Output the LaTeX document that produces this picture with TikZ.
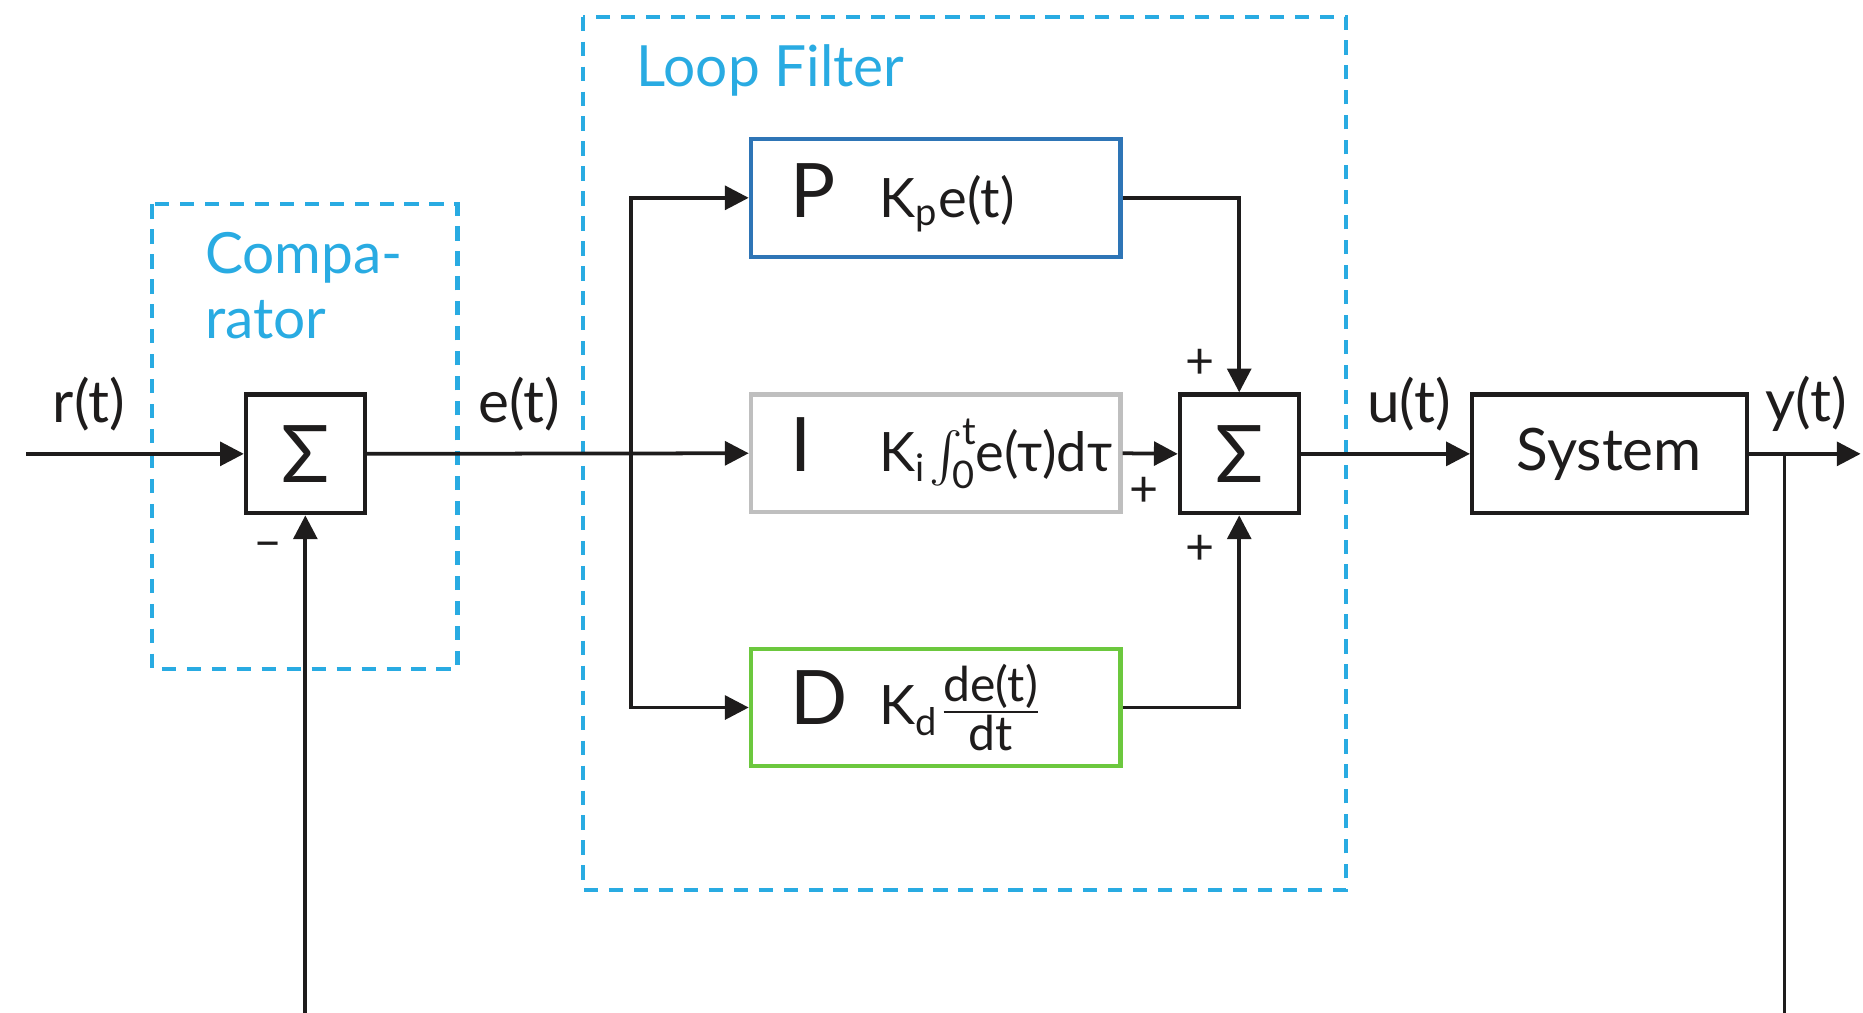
\documentclass[tikz,border=0pt]{standalone}
\usepackage{amsmath}
\usepackage{fontspec}
\setmainfont{Lato}
\usepackage{tikz}
\usetikzlibrary{positioning, arrows.meta, calc}
\definecolor{lfcyan}{RGB}{41,171,226}
\definecolor{pblue}{RGB}{46,117,182}
\definecolor{igray}{RGB}{191,191,191}
\definecolor{dgreen}{RGB}{108,200,62}
\definecolor{ink}{RGB}{30,28,28}

\begin{document}
\begin{tikzpicture}[x=0.01cm, y=-0.01cm,
        every node/.style={font=\fontsize{14}{16}\selectfont, text=ink},
        sumbox/.style={draw=ink, line width=1pt, minimum width=1cm, minimum height=1cm, inner sep=0pt, font=\fontsize{19}{20}\selectfont},
        blk/.style={draw, line width=1pt, minimum height=0.99cm, inner xsep=0.33cm, inner ysep=0pt, text width=2.45cm, align=left, font=\fontsize{13}{15}\selectfont},
        sysbox/.style={draw=ink, line width=1pt, minimum width=2.31cm, minimum height=1cm},
        grp/.style={draw=lfcyan, line width=1pt, dash pattern=on 0.12cm off 0.09cm},
        grplabel/.style={text=lfcyan, inner sep=0pt, align=left, font=\fontsize{13.6}{15.6}\selectfont},
        sgn/.style={font=\fontsize{12}{13}\selectfont, inner sep=0pt},
        arr/.style={-{Triangle[length=0.2cm, width=0.2cm]}, line width=0.9pt, draw=ink}]
      \useasboundingbox (0,0) rectangle (1568,852);
      \clip (0,0) rectangle (1568,852);

      % dashed groups
      \draw[grp] (128,172) rectangle (385,563);
      \draw[grp] (491,14) rectangle (1133,749);
      \node[grplabel, anchor=north west] (cmplabel) at (172,195) {Compa-\\rator};
      \node[grplabel, anchor=base west] (lflabel) at (535,73) {Loop Filter};

      % blocks
      \node[sumbox] (cmp) at (257,382) {Σ};
      \node[blk, draw=pblue] (P) at (787.5,166.5) {\makebox[0.75cm][l]{\fontsize{18}{20}\selectfont P}K\textsubscript{p}e(t)};
      \node[blk, draw=igray] (I) at (787.5,381.5) {\makebox[0.75cm][l]{\fontsize{18}{20}\selectfont I}K\textsubscript{i}$\mkern1mu\int_{\text{0}}^{\text{t}}\mkern-1mu$e(τ)dτ};
      \node[blk, draw=dgreen] (D) at (787.5,595.5) {\makebox[0.75cm][l]{\fontsize{18}{20}\selectfont D}K\textsubscript{d}$\frac{\mbox{\fontsize{11.5}{12}\selectfont de(t)}}{\mbox{\fontsize{11.5}{12}\selectfont dt}}$};
      \node[sumbox] (sum) at (1043,382) {Σ};
      \node[sysbox] (sys) at (1354.5,382) {System};

      % signals
      \coordinate (rin) at (22,382);
      \coordinate (br) at (531,382);
      \coordinate (fb) at (1502,382);
      \coordinate (yout) at (1566,382);
      \node (rlab) at (75,340) {r(t)};
      \node (elab) at (437,340) {e(t)};
      \node (ulab) at (1186,340) {u(t)};
      \node (ylab) at (1520,340) {y(t)};

      \draw[arr] (rin) -- (cmp.west);
      \draw[arr] (cmp.east) -- (I.west);
      \draw[arr] (br) |- (P.west);
      \draw[arr] (br) |- (D.west);
      \draw[arr] (P.east) -| (sum.north);
      \draw[arr] (I.east) -- (sum.west);
      \draw[arr] (D.east) -| (sum.south);
      \draw[arr] (sum.east) -- (sys.west);
      \draw[arr] (sys.east) -- (yout);
      \draw[arr] (fb) -- ++(0,540) -| (cmp.south);

      % signs
      \node[sgn] (s1) at ($(sum.north)+(-33,-24)$) {+};
      \node[sgn] (s2) at ($(sum.west)+(-28,32)$) {+};
      \node[sgn] (s3) at ($(sum.south)+(-33,29)$) {+};
      \node[sgn] (s4) at ($(cmp.south)+(-31,29)$) {–};
    \end{tikzpicture}
\end{document}
